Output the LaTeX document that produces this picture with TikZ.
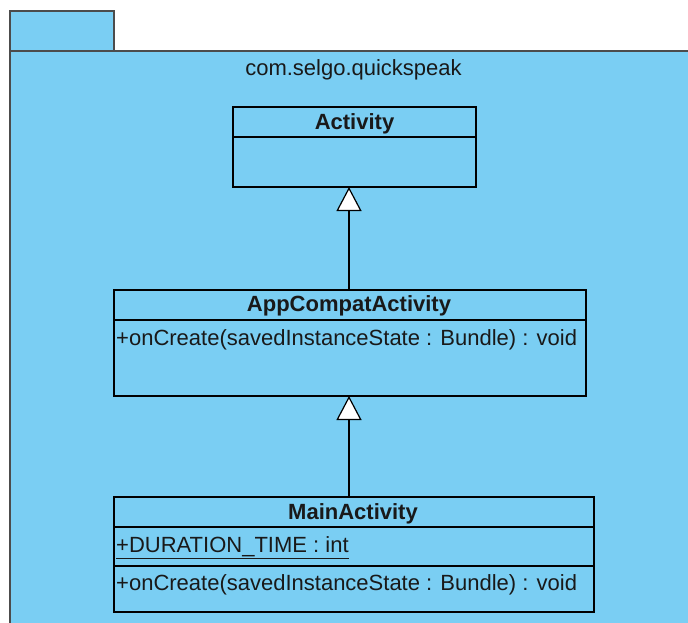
\documentclass[tikz,border=0pt]{standalone}
\usepackage{fontspec}
\setmainfont{Liberation Sans}
\usetikzlibrary{arrows.meta}
\definecolor{pkg}{RGB}{122,206,243}
\definecolor{ink}{RGB}{25,25,25}
\begin{document}
\begin{tikzpicture}[x=1pt,y=-1pt,
  box/.style={draw=black,line width=1.4pt,fill=pkg,inner sep=0pt,outer sep=0pt,rectangle,anchor=north west},
  sep/.style={draw=black,line width=1.4pt},
  cls/.style={font=\fontsize{22}{26}\selectfont\bfseries,text=ink,inner sep=0pt},
  mem/.style={font=\fontsize{22}{26}\selectfont,text=ink,anchor=west,inner sep=0pt},
  gen/.style={line width=1.4pt,-{Triangle[length=24pt,width=25pt,fill=white,line width=1.2pt]}}]
\useasboundingbox (0,0) rectangle (688,622);
\clip (0,0) rectangle (688,622);
% package
\node[box,draw=black!70,line width=1.1pt,minimum width=104pt,minimum height=40pt] (tab) at (10,11) {};
\node[box,draw=black!70,line width=1.1pt,minimum width=720pt,minimum height=620pt] (pkg) at (10,51) {};
\node[font=\fontsize{22}{26}\selectfont,text=ink,inner sep=0pt] (pkgname) at (353.5,70) {com.selgo.quickspeak};
% Activity
\node[box,minimum width=243pt,minimum height=80pt] (act) at (233,107) {};
\coordinate (actsep) at (0,137);
\draw[sep] (act.west |- actsep) -- (act.east |- actsep);
\node[cls] (actname) at (354.5,124) {Activity};
% AppCompatActivity
\node[box,minimum width=472pt,minimum height=106pt] (app) at (114,290) {};
\coordinate (appsep) at (0,320);
\draw[sep] (app.west |- appsep) -- (app.east |- appsep);
\node[cls] (appname) at (349,306) {AppCompatActivity};
\node[mem] (appm) at (116,340) {+onCreate(savedInstanceState : Bundle) : void};
% MainActivity
\node[box,minimum width=480pt,minimum height=115pt] (main) at (114,497) {};
\coordinate (mainsep1) at (0,527);
\coordinate (mainsep2) at (0,566);
\draw[sep] (main.west |- mainsep1) -- (main.east |- mainsep1);
\draw[sep] (main.west |- mainsep2) -- (main.east |- mainsep2);
\node[cls] (mainname) at (353,514) {MainActivity};
\node[mem] (maina) at (116,548) {\underline{+DURATION\_TIME : int}};
\node[mem] (mainm) at (116,585) {+onCreate(savedInstanceState : Bundle) : void};
% generalizations
\coordinate (ax) at (349,0);
\draw[gen] (ax |- app.north) -- (ax |- act.south);
\draw[gen] (ax |- main.north) -- (ax |- app.south);
\end{tikzpicture}
\end{document}
